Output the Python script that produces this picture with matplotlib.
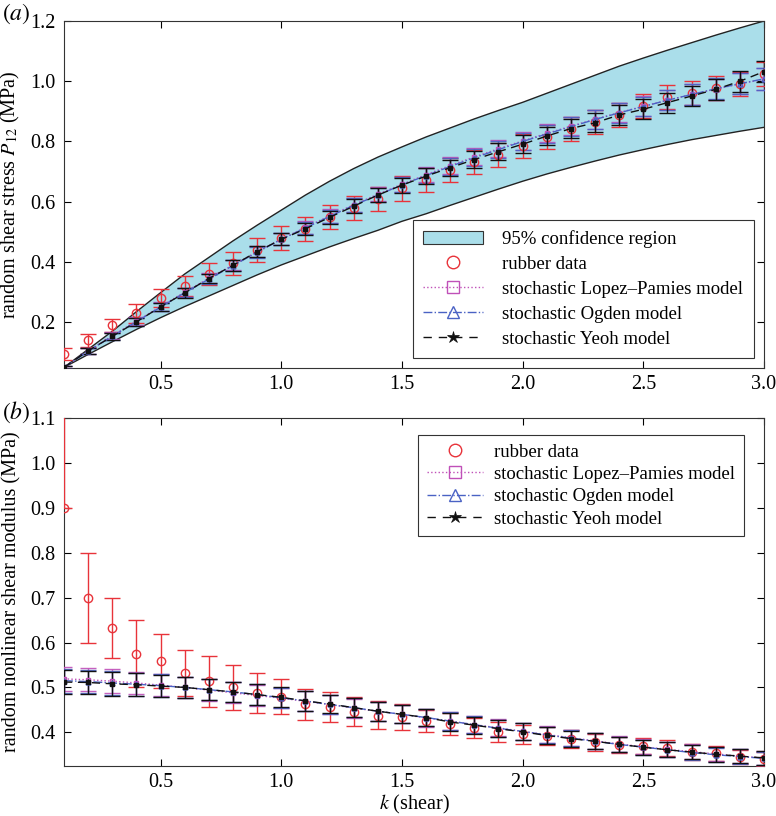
import numpy as np
import matplotlib
matplotlib.use("Agg")
import matplotlib.pyplot as plt
from matplotlib.lines import Line2D
from matplotlib.patches import Patch

plt.rcParams['font.family'] = ['Liberation Serif', 'DejaVu Serif']
plt.rcParams['mathtext.fontset'] = 'stix'

# ---------------- data ----------------
k = [0.1, 0.2, 0.3, 0.4, 0.5, 0.6, 0.7, 0.8, 0.9, 1.0,
     1.1, 1.2, 1.3, 1.4, 1.5, 1.6, 1.7, 1.8, 1.9, 2.0,
     2.1, 2.2, 2.3, 2.4, 2.5, 2.6, 2.7, 2.8, 2.9, 3.0]

# (a) shear stress
band_upper = [0.05, 0.11, 0.17, 0.235, 0.298, 0.36, 0.415, 0.47, 0.522, 0.572,
              0.622, 0.668, 0.71, 0.748, 0.782, 0.815, 0.845, 0.875, 0.903, 0.93,
              0.96, 0.99, 1.02, 1.05, 1.077, 1.103, 1.128, 1.153, 1.177, 1.2]
band_lower = [0.05, 0.093, 0.135, 0.176, 0.215, 0.252, 0.287, 0.322, 0.357, 0.39,
              0.42, 0.45, 0.478, 0.505, 0.535, 0.56, 0.588, 0.615, 0.642, 0.668,
              0.692, 0.714, 0.735, 0.755, 0.773, 0.79, 0.806, 0.82, 0.834, 0.847]
rubber_a = [0.093, 0.14, 0.19, 0.229, 0.279, 0.32, 0.36, 0.395, 0.44, 0.48,
            0.51, 0.55, 0.58, 0.608, 0.644, 0.672, 0.705, 0.733, 0.755, 0.785,
            0.816, 0.84, 0.865, 0.888, 0.918, 0.949, 0.96, 0.978, 0.99, 1.025]
rubber_a_err = [0.02, 0.022, 0.022, 0.03, 0.03, 0.032, 0.037, 0.038, 0.04, 0.04,
                0.04, 0.04, 0.04, 0.04, 0.04, 0.04, 0.04, 0.04, 0.04, 0.04,
                0.04, 0.04, 0.04, 0.04, 0.04, 0.04, 0.04, 0.04, 0.04, 0.04]
lopez_a = [0.05, 0.105, 0.155, 0.204, 0.252, 0.3, 0.346, 0.39, 0.434, 0.476,
           0.515, 0.553, 0.59, 0.625, 0.658, 0.69, 0.72, 0.749, 0.776, 0.802,
           0.827, 0.851, 0.874, 0.896, 0.917, 0.937, 0.956, 0.974, 0.991, 1.007]
ogden_a = [0.05, 0.104, 0.153, 0.202, 0.25, 0.298, 0.343, 0.388, 0.432, 0.475,
           0.513, 0.551, 0.588, 0.622, 0.656, 0.687, 0.717, 0.746, 0.773, 0.8,
           0.825, 0.849, 0.873, 0.895, 0.916, 0.937, 0.956, 0.975, 0.992, 1.008]
yeoh_a = [0.05, 0.105, 0.153, 0.201, 0.251, 0.297, 0.345, 0.389, 0.434, 0.475,
          0.51, 0.548, 0.585, 0.622, 0.655, 0.685, 0.713, 0.74, 0.766, 0.791,
          0.818, 0.843, 0.862, 0.888, 0.907, 0.929, 0.951, 0.973, 1.0, 1.032]
model_a_err = [0.004, 0.01, 0.012, 0.013, 0.014, 0.015, 0.016, 0.018, 0.019, 0.02,
               0.021, 0.022, 0.023, 0.024, 0.025, 0.026, 0.027, 0.028, 0.028, 0.029,
               0.03, 0.031, 0.031, 0.032, 0.033, 0.033, 0.034, 0.035, 0.035, 0.036]

# (b) nonlinear shear modulus
rubber_b = [0.9, 0.699, 0.632, 0.574, 0.559, 0.532, 0.514, 0.5, 0.488, 0.479,
            0.464, 0.456, 0.445, 0.436, 0.434, 0.425, 0.418, 0.41, 0.401, 0.396,
            0.391, 0.386, 0.378, 0.371, 0.369, 0.366, 0.356, 0.353, 0.345, 0.341]
rubber_b_err_lo = [0.0, 0.1, 0.066, 0.074, 0.06, 0.052, 0.058, 0.051, 0.044, 0.039,
                   0.037, 0.032, 0.03, 0.029, 0.028, 0.025, 0.024, 0.023, 0.022, 0.021,
                   0.02, 0.02, 0.019, 0.018, 0.018, 0.018, 0.017, 0.017, 0.016, 0.016]
rubber_b_err_hi = [0.3, 0.1, 0.068, 0.076, 0.061, 0.051, 0.056, 0.049, 0.044, 0.039,
                   0.033, 0.033, 0.033, 0.034, 0.028, 0.025, 0.024, 0.023, 0.022, 0.021,
                   0.02, 0.02, 0.019, 0.018, 0.018, 0.018, 0.017, 0.017, 0.016, 0.016]
lopez_b = [0.519, 0.517, 0.514, 0.51, 0.505, 0.5, 0.494, 0.488, 0.482, 0.476,
           0.469, 0.462, 0.454, 0.447, 0.44, 0.432, 0.425, 0.417, 0.41, 0.402,
           0.395, 0.388, 0.381, 0.374, 0.368, 0.362, 0.357, 0.352, 0.347, 0.343]
ogden_b = [0.515, 0.513, 0.51, 0.507, 0.504, 0.5, 0.495, 0.49, 0.484, 0.477,
           0.47, 0.462, 0.455, 0.447, 0.44, 0.433, 0.425, 0.417, 0.409, 0.402,
           0.394, 0.387, 0.38, 0.373, 0.367, 0.361, 0.355, 0.35, 0.346, 0.342]
yeoh_b = [0.512, 0.511, 0.508, 0.506, 0.503, 0.5, 0.495, 0.49, 0.484, 0.478,
          0.47, 0.463, 0.455, 0.447, 0.44, 0.433, 0.423, 0.416, 0.408, 0.401,
          0.393, 0.386, 0.38, 0.373, 0.367, 0.361, 0.356, 0.351, 0.347, 0.343]
model_b_err = [0.027, 0.026, 0.026, 0.025, 0.025, 0.024, 0.024, 0.023, 0.023, 0.022,
               0.022, 0.021, 0.021, 0.021, 0.02, 0.02, 0.02, 0.019, 0.019, 0.019,
               0.018, 0.018, 0.018, 0.017, 0.017, 0.017, 0.016, 0.016, 0.016, 0.015]

# ---------------- style ----------------
RED = '#e8333a'
MAG = '#c050b8'
BLUE = '#4a62c4'
BLACK = '#111111'
BAND = '#aadeea'
FS = 14.5
LFS = 13.5

fig = plt.figure(figsize=(7.76, 8.16), dpi=100)
axA = fig.add_axes([64/776, 1-368/816, 700/776, 347/816])
axB = fig.add_axes([64/776, 1-766/816, 700/776, 348/816])


def style_axes(ax):
    ax.tick_params(direction='in', top=True, right=True, length=5, width=0.8,
                   labelsize=FS)
    ax.tick_params(axis='x', pad=5)
    ax.tick_params(axis='y', pad=6)
    for s in ax.spines.values():
        s.set_linewidth(0.8)
        s.set_color('#333333')
    ax.set_xlim(0.1, 3.0)
    ax.set_xticks([0.5, 1.0, 1.5, 2.0, 2.5, 3.0])
    ax.set_xticklabels(['0.5', '1.0', '1.5', '2.0', '2.5', '3.0'])


def draw_models(ax, lop, ogd, yeo, err):
    ax.errorbar(k, lop, yerr=err, fmt='none', ecolor=MAG, elinewidth=1.0,
                capsize=6, capthick=1.0, alpha=0.9, zorder=3)
    ax.errorbar(k, ogd, yerr=err, fmt='none', ecolor=BLUE, elinewidth=1.0,
                capsize=6, capthick=1.0, alpha=0.9, zorder=3)
    ax.errorbar(k, yeo, yerr=err, fmt='none', ecolor=BLACK, elinewidth=1.0,
                capsize=6, capthick=1.0, zorder=4)
    ax.plot(k, lop, linestyle=':', color=MAG, lw=1.0, marker='s', ms=3.5,
            mfc='none', mec=MAG, zorder=5)
    ax.plot(k, ogd, linestyle='-.', color=BLUE, lw=1.0, marker='^', ms=3.5,
            mfc='none', mec=BLUE, zorder=5)
    ax.plot(k, yeo, linestyle=(0, (6, 4)), color=BLACK, lw=1.0, marker='s', ms=3.5,
            mfc=BLACK, mec=BLACK, zorder=6)


h_band = Patch(facecolor=BAND, edgecolor='#333333', linewidth=0.8)
h_rub = Line2D([], [], linestyle='none', marker='o', ms=9, mfc='none', mec=RED, mew=1.0)
h_lop = Line2D([], [], linestyle=':', color=MAG, lw=1.0, marker='s', ms=8,
               mfc='none', mec=MAG)
h_ogd = Line2D([], [], linestyle='-.', color=BLUE, lw=1.0, marker='^', ms=9,
               mfc='none', mec=BLUE)
h_yeo = Line2D([], [], linestyle=(0, (6, 5)), color=BLACK, lw=1.0, marker='*', ms=9,
               mfc=BLACK, mec=BLACK, mew=0.5)
labels_models = ['rubber data', 'stochastic Lopez\u2013Pamies model',
                 'stochastic Ogden model', 'stochastic Yeoh model']

# ---------------- (a) ----------------
style_axes(axA)
axA.fill_between(k, band_lower, band_upper, facecolor=BAND, edgecolor='none', zorder=1)
axA.plot(k, band_upper, color='#222222', lw=1.0, zorder=2)
axA.plot(k, band_lower, color='#222222', lw=1.0, zorder=2)
axA.errorbar(k, rubber_a, yerr=rubber_a_err, fmt='o', color=RED, ms=6,
             mfc='none', mec=RED, elinewidth=1.0, capsize=6, capthick=1.0, zorder=3)
draw_models(axA, lopez_a, ogden_a, yeoh_a, model_a_err)
axA.set_ylim(0.048, 1.2)
axA.set_yticks([0.2, 0.4, 0.6, 0.8, 1.0, 1.2])
axA.set_yticklabels(['0.2', '0.4', '0.6', '0.8', '1.0', '1.2'])
axA.set_ylabel(r'random shear stress $P_{12}$ (MPa)', fontsize=FS, labelpad=6)
legA = axA.legend([h_band, h_rub, h_lop, h_ogd, h_yeo],
                  ['95% confidence region'] + labels_models,
                  loc='lower right', bbox_to_anchor=(0.985, 0.028), borderaxespad=0,
                  fontsize=LFS, frameon=True, fancybox=False, framealpha=1,
                  edgecolor='#333333', handlelength=3.2, handletextpad=1.0,
                  labelspacing=0.42, borderpad=0.55)
legA.get_frame().set_linewidth(0.8)

# ---------------- (b) ----------------
style_axes(axB)
axB.errorbar(k, rubber_b, yerr=[rubber_b_err_lo, rubber_b_err_hi], fmt='o', color=RED,
             ms=6, mfc='none', mec=RED, elinewidth=1.0, capsize=6, capthick=1.0, zorder=3)
draw_models(axB, lopez_b, ogden_b, yeoh_b, model_b_err)
axB.set_ylim(0.325, 1.1)
axB.set_yticks([0.4, 0.5, 0.6, 0.7, 0.8, 0.9, 1.0, 1.1])
axB.set_yticklabels(['0.4', '0.5', '0.6', '0.7', '0.8', '0.9', '1.0', '1.1'])
axB.set_ylabel('random nonlinear shear modulus (MPa)', fontsize=FS, labelpad=6)
axB.set_xlabel(r'$k$ (shear)', fontsize=FS, labelpad=1)
legB = axB.legend([h_rub, h_lop, h_ogd, h_yeo], labels_models,
                  loc='upper right', bbox_to_anchor=(0.971, 0.951), borderaxespad=0,
                  fontsize=LFS, frameon=True, fancybox=False, framealpha=1,
                  edgecolor='#333333', handlelength=3.0, handletextpad=0.6,
                  labelspacing=0.28, borderpad=0.45)
legB.get_frame().set_linewidth(0.8)

fig.text(0.002, 0.983, r'$(a)$', fontsize=17, va='center', ha='left')
fig.text(0.002, 0.495, r'$(b)$', fontsize=17, va='center', ha='left')

fig.savefig('out.png', dpi=100)
